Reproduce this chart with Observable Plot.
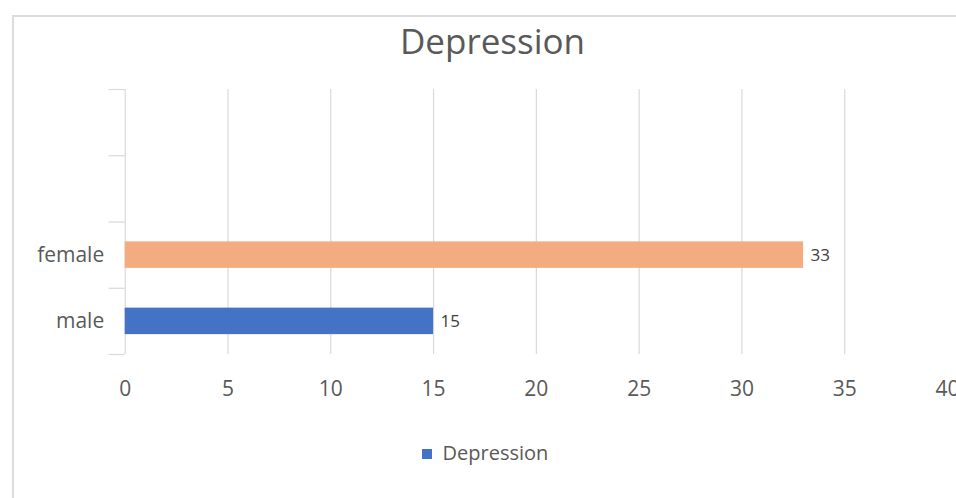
<!DOCTYPE html>
<html>
<head>
<meta charset="utf-8">
<script src="https://cdn.jsdelivr.net/npm/d3@7"></script>
<script src="https://cdn.jsdelivr.net/npm/@observablehq/plot@0.6"></script>
<style>
  html, body { margin: 0; padding: 0; background: #fff; }
  #chart { position: relative; width: 956px; height: 498px; overflow: hidden; font-family: "Open Sans", sans-serif; }
  #frame { position: absolute; left: 12px; top: 15px; width: 1100px; height: 700px; border: 2px solid #dcdcdc; box-sizing: border-box; }
  #title { position: absolute; left: 0; width: 985px; top: 20px; text-align: center; font-size: 35px; color: #595959; line-height: 1.2; }
  #legend { position: absolute; left: 0; width: 970px; top: 441px; text-align: center; font-size: 20px; color: #595959; line-height: 1.2; }
  #legend .swatch { display: inline-block; width: 10px; height: 10px; margin-right: 11px; vertical-align: 1px; }
  #plot { position: absolute; left: 0; top: 0; }
</style>
</head>
<body>
<div id="chart">
  <div id="frame"></div>
  <div id="plot"></div>
  <div id="title"></div>
  <div id="legend"></div>
</div>
<script>
// Depression counts by gender (bottom to top), plus two empty category slots
const categories = ["male", "female", "", ""];
const values = [15, 33];
const barColors = ["#4472C4", "#F2AC80"];
const xTicks = [0, 5, 10, 15, 20, 25, 30, 35, 40];
const gridTicks = [5, 10, 15, 20, 25, 30, 35];
const seriesName = "Depression";

const rows = values.map((v, i) => ({ cat: categories[i], value: v, idx: i, color: barColors[i] }));
const boundaries = d3.range(categories.length + 1);
const centers = categories.map((c, i) => i + 0.5);

const gray = "#d9d9d9";
const textGray = "#595959";

const plot = Plot.plot({
  width: 956,
  height: 498,
  marginLeft: 124.7,
  marginRight: 9,
  marginTop: 89,
  marginBottom: 144,
  style: { fontFamily: "Open Sans, sans-serif", background: "transparent", overflow: "visible" },
  x: { domain: [0, 40], label: null },
  y: { domain: [0, categories.length], label: null },
  marks: [
    Plot.ruleX(gridTicks, { stroke: gray, strokeWidth: 1.2 }),
    Plot.ruleX([0], { stroke: gray, strokeWidth: 1.2 }),
    Plot.axisY({ ticks: boundaries, tickSize: 16, tickFormat: () => "", label: null, stroke: gray, strokeOpacity: 1, strokeWidth: 1.2 }),
    Plot.axisY({ ticks: centers, tickSize: 0, tickPadding: 21, fontSize: 21, fill: textGray, label: null,
      tickFormat: (d) => categories[Math.floor(d)] }),
    Plot.axisX({ ticks: xTicks, tickSize: 0, tickPadding: 27, fontSize: 21, fill: textGray, label: null, tickFormat: d3.format("d") }),
    Plot.rectX(rows, { x1: 0, x2: "value", y1: (d) => d.idx + 0.3, y2: (d) => d.idx + 0.7, fill: "color" }),
    Plot.text(rows, { x: "value", y: (d) => d.idx + 0.5, text: (d) => String(d.value), dx: 7, textAnchor: "start",
      fontSize: 17, fill: "#404040" })
  ]
});
document.getElementById("plot").append(plot);

document.getElementById("title").textContent = seriesName;
const legend = document.getElementById("legend");
const sw = document.createElement("span");
sw.className = "swatch";
sw.style.background = barColors[0];
legend.append(sw, document.createTextNode(seriesName));
</script>
</body>
</html>
